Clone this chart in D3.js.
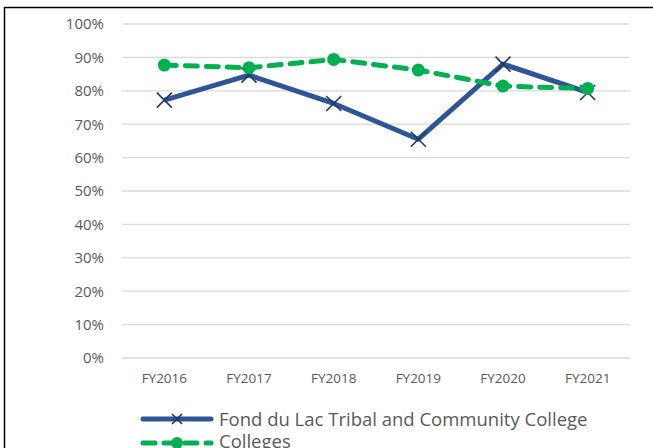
<!DOCTYPE html>
<html>
<head>
<meta charset="utf-8">
<script src="https://cdn.jsdelivr.net/npm/d3@7"></script>
<style>
  body { margin: 0; background: #fff; }
  text { font-family: "Open Sans", "Liberation Sans", sans-serif; }
</style>
</head>
<body>
<div id="chart"></div>
<script>
// data
var years = ["FY2016", "FY2017", "FY2018", "FY2019", "FY2020", "FY2021"];
var fdl = [0.772, 0.847, 0.762, 0.655, 0.880, 0.795];
var colleges = [0.877, 0.869, 0.894, 0.862, 0.814, 0.807];
var yTicks = [0, 0.1, 0.2, 0.3, 0.4, 0.5, 0.6, 0.7, 0.8, 0.9, 1.0];
var seriesNames = ["Fond du Lac Tribal and Community College", "Colleges"];

var width = 653, height = 448;
var blue = "#2F5597", navy = "#1F3864", green = "#00B050";

var svg = d3.select("#chart").append("svg")
    .attr("width", width)
    .attr("height", height);

// frame
svg.append("path")
    .attr("d", "M4.5," + height + "V7.5H" + width)
    .attr("fill", "none")
    .attr("stroke", "#000")
    .attr("stroke-width", 1.5);

var x = d3.scaleBand().domain(years).range([122, 630]);
var y = d3.scaleLinear().domain([0, 1]).range([358, 24]);

// gridlines
svg.append("g").selectAll("line")
    .data(yTicks)
    .enter().append("line")
    .attr("x1", 122).attr("x2", 630)
    .attr("y1", function(d) { return y(d); })
    .attr("y2", function(d) { return y(d); })
    .attr("stroke", "#d9d9d9")
    .attr("stroke-width", 1.3);

var yAxis = d3.axisLeft(y).tickValues(yTicks).tickFormat(d3.format(".0%")).tickSize(0).tickPadding(18);
var gy = svg.append("g").attr("transform", "translate(122,0)").call(yAxis);
gy.select(".domain").remove();
gy.selectAll("text").attr("fill", "#595959").attr("font-size", "15px")
    .style("font-family", "'Open Sans', sans-serif");

var xAxis = d3.axisBottom(x).tickSize(0).tickPadding(15);
var gx = svg.append("g").attr("transform", "translate(0,358)").call(xAxis);
gx.select(".domain").remove();
gx.selectAll("text").attr("fill", "#595959").attr("font-size", "13.5px")
    .style("font-family", "'Open Sans', sans-serif");

var cx = function(d, i) { return x(years[i]) + x.bandwidth() / 2; };
var line = d3.line()
    .x(cx)
    .y(function(d) { return y(d); });

function xMark(sel, px, py, s) {
  sel.append("path")
      .attr("d", "M" + (px - s) + "," + (py - s) + "L" + (px + s) + "," + (py + s) +
                 "M" + (px - s) + "," + (py + s) + "L" + (px + s) + "," + (py - s))
      .attr("stroke", navy)
      .attr("stroke-width", 1.6)
      .attr("fill", "none");
}

// FDL (solid blue) with x markers
svg.append("path")
    .datum(fdl)
    .attr("d", line)
    .attr("fill", "none")
    .attr("stroke", blue)
    .attr("stroke-width", 5)
    .attr("stroke-linejoin", "round");

var fdlMarks = svg.append("g");
fdl.forEach(function(d, i) { xMark(fdlMarks, cx(d, i), y(d), 7.5); });

// Colleges (dashed green) with dots
svg.append("path")
    .datum(colleges)
    .attr("d", line)
    .attr("fill", "none")
    .attr("stroke", green)
    .attr("stroke-width", 5)
    .attr("stroke-dasharray", "12,9")
    .attr("stroke-linecap", "round");

svg.append("g").selectAll("circle")
    .data(colleges)
    .enter().append("circle")
    .attr("cx", cx)
    .attr("cy", function(d) { return y(d); })
    .attr("r", 6.5)
    .attr("fill", green);

// legend
var legend = svg.append("g");
legend.append("line")
    .attr("x1", 143).attr("x2", 211).attr("y1", 419).attr("y2", 419)
    .attr("stroke", blue).attr("stroke-width", 5).attr("stroke-linecap", "round");
xMark(legend, 177, 419, 5);
legend.append("line")
    .attr("x1", 143).attr("x2", 211).attr("y1", 443).attr("y2", 443)
    .attr("stroke", green).attr("stroke-width", 5)
    .attr("stroke-dasharray", "12,9").attr("stroke-dashoffset", 0)
    .attr("stroke-linecap", "round");
legend.append("circle").attr("cx", 177).attr("cy", 443).attr("r", 6).attr("fill", green);

legend.selectAll("text")
    .data(seriesNames)
    .enter().append("text")
    .attr("x", 219)
    .attr("y", function(d, i) { return 425.5 + i * 22; })
    .attr("fill", "#595959")
    .attr("font-size", "18.5px")
    .text(function(d) { return d; });
</script>
</body>
</html>
